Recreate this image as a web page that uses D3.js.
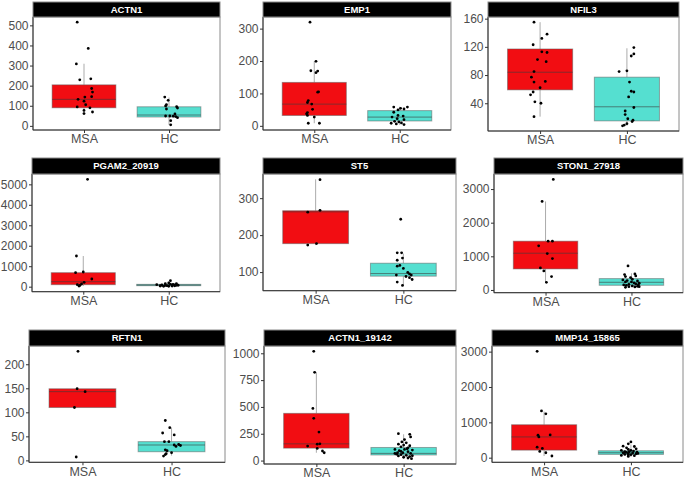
<!DOCTYPE html>
<html><head><meta charset="utf-8">
<script src="https://cdn.jsdelivr.net/npm/d3@7"></script>
<style>body{margin:0;background:#fff}svg{display:block}</style>
</head><body><div id="chart"></div>
<script>
// ---------------- DATA ----------------
const panelNames = ["ACTN1","EMP1","NFIL3","PGAM2_20919","ST5","STON1_27918","RFTN1","ACTN1_19142","MMP14_15865"];
const groups = ["MSA","HC"];
const tickValues = [
  [0,100,200,300,400,500],
  [0,100,200,300],
  [40,80,120,160],
  [0,1000,2000,3000,4000,5000],
  [100,200,300],
  [0,1000,2000,3000],
  [0,50,100,150,200],
  [0,250,500,750,1000],
  [0,1000,2000,3000]
];
// box stats: [lower whisker, q1, median, q3, upper whisker]
const msaBox = [
  [58,90,132,204,309],
  [8,32,67,134,199],
  [21,59,84,117,155],
  [30,98,244,684,1498],
  [173,177,263,266,351],
  [228,626,1092,1450,2632],
  [110,110,143,149,149],
  [73,116,156,440,823],
  [47,214,587,932,1305]
];
const hcBox = [
  [5,44,54,95,141],
  [3,15,27,47,59],
  [8,15,35,77,118],
  [16,49,81,114,244],
  [64,89,96,124,150],
  [79,139,228,338,496],
  [10,18,32,39,68],
  [21,52,67,122,245],
  [19,93,140,196,373]
];
// jittered points: [value, horizontal jitter in category units]
const msaPoints = [
  [[516,-0.08],[385,0.05],[308,-0.09],[229,-0.05],[234,0.08],[186,0.09],[168,0.10],[145,0.09],[143,0.01],[132,-0.07],[123,0.0],[105,0.02],[94,-0.08],[90,0.07],[77,0.0],[61,0.0],[69,0.1]],
  [[320,-0.05],[199,0.02],[170,-0.04],[169,0.04],[164,0.02],[105,0.05],[104,0.04],[78,-0.07],[72,-0.08],[67,-0.03],[51,-0.02],[41,-0.08],[37,-0.09],[32,-0.08],[27,0],[8,-0.07],[8,0.06]],
  [[155,-0.07],[138,0.08],[132,0.02],[123,-0.08],[113,0.02],[112,0.08],[102,-0.03],[99,0.07],[85,-0.07],[77,-0.1],[70,-0.07],[71,0.06],[62,0],[56,-0.08],[52,-0.11],[42,-0.06],[40,0.01],[21,-0.07]],
  [[5244,0.05],[1498,-0.08],[684,-0.09],[717,0],[375,0.1],[212,0.01],[130,-0.02],[33,-0.05],[98,-0.07],[60,-0.04]],
  [[350,0.05],[262,-0.09],[267,0.05],[177,0.01],[173,-0.09]],
  [[3287,0.09],[2632,-0.04],[1450,0.03],[1450,0.08],[1311,-0.08],[1082,0.02],[933,0.08],[655,-0.06],[566,-0.02],[397,0.07],[228,0.01]],
  [[227,-0.05],[149,-0.06],[143,0.03],[110,-0.09],[7,-0.07]],
  [[1018,-0.03],[823,-0.02],[486,-0.04],[394,-0.03],[266,0.03],[135,-0.1],[153,0.01],[156,0.04],[113,0.01],[89,0.07],[73,0.09]],
  [[3010,-0.08],[1323,-0.03],[1240,0.02],[634,-0.07],[587,-0.06],[643,0.07],[298,-0.08],[261,-0.02],[177,-0.05],[140,0.02],[47,0.09]]
];
const hcPoints = [
  [[143,-0.05],[127,-0.01],[105,-0.03],[99,-0.04],[95,0.09],[89,0.1],[84,-0.03],[49,-0.04],[49,0.01],[48,0.05],[59,0.07],[46,0.08],[41,0.1],[26,0.02],[5,0.02]],
  [[58,-0.07],[58,0.09],[54,0.01],[52,0.05],[49,-0.02],[42,-0.07],[32,-0.02],[30,0.04],[27,-0.09],[22,-0.03],[19,0.05],[14,-0.06],[12,-0.01],[8,-0.1],[6,-0.04],[4,0.05],[9,0.02]],
  [[119,0.08],[110,0.08],[107,0.05],[85,-0.09],[86,0],[70,0.03],[57,0.05],[56,0.08],[49,0.02],[34,0.08],[29,-0.02],[24,-0.02],[18,0.01],[16,0.07],[14,0.06],[11,0],[9,-0.03],[8,-0.05]],
  [[293,0.02],[179,0],[147,-0.04],[114,0.05],[81,0.07],[81,-0.08],[49,-0.02],[65,0.09],[33,0.04],[16,-0.06],[49,-0.1],[100,-0.14],[70,0.11],[120,0.02],[40,0.07],[20,0],[150,0.09],[60,-0.04],[30,-0.1]],
  [[243,-0.03],[152,-0.07],[152,-0.02],[138,-0.01],[132,-0.07],[118,-0.04],[116,-0.07],[110,0],[92,-0.08],[99,0.05],[95,0.07],[92,0.09],[88,0.03],[85,0.07],[80,0.1],[73,-0.07],[64,-0.01]],
  [[715,-0.04],[457,-0.08],[477,0.04],[417,0.05],[397,-0.07],[367,-0.01],[318,0.01],[298,-0.1],[278,-0.05],[268,0.07],[238,-0.07],[238,0],[209,0.03],[179,0.05],[169,-0.03],[149,0.08],[139,-0.06],[119,0.01],[109,0.07],[99,-0.03],[89,0.04],[79,-0.07],[99,0.09],[150,-0.09],[200,0.09]],
  [[83,-0.07],[68,-0.02],[53,0.03],[57,-0.1],[39,-0.08],[39,-0.03],[29,0.05],[33,0.08],[31,0.1],[32,0.03],[22,-0.07],[20,-0.05],[14,-0.06],[16,0],[9,-0.09],[12,-0.07]],
  [[251,-0.06],[245,0.07],[220,0.08],[196,0.01],[174,-0.02],[165,0.03],[153,-0.06],[144,0],[138,0.07],[128,-0.03],[119,0.05],[104,-0.1],[104,0.01],[98,0.1],[92,-0.05],[83,0.05],[73,-0.07],[73,-0.01],[67,0.08],[55,-0.03],[49,0.03],[43,-0.06],[37,0.07],[24,0.05],[18,0.09],[31,0],[67,-0.1],[60,-0.08],[85,-0.03],[110,0.04],[45,0.1]],
  [[447,0],[391,-0.03],[326,-0.09],[317,0.04],[280,-0.05],[252,0.06],[233,-0.03],[205,-0.11],[205,0],[186,0.03],[168,-0.07],[168,-0.02],[158,0.07],[140,-0.09],[130,0.02],[112,-0.03],[112,0.06],[93,-0.07],[84,0],[65,-0.11],[56,0.04],[37,-0.03],[150,-0.05],[120,0.08],[75,-0.03]]
];

// ---------------- LAYOUT / STYLE ----------------
const W = 685, H = 479;
const layout = [
  {x0:33,  x1:220, st:2,   pt:17,  pb:130},
  {x0:263, x1:451, st:2,   pt:17,  pb:130},
  {x0:488, x1:679, st:2,   pt:17,  pb:131},
  {x0:32,  x1:220, st:158, pt:174, pb:291.7},
  {x0:263, x1:456, st:158, pt:174, pb:290.7},
  {x0:494, x1:683, st:158, pt:174, pb:292.7},
  {x0:29,  x1:225, st:330, pt:346, pb:462.3},
  {x0:264, x1:456, st:330, pt:346, pb:464},
  {x0:492, x1:683, st:330, pt:346, pb:462.3}
];
const fills = ["#F20D12", "#55DFD0"];
const font = "'Liberation Sans', Arial, Helvetica, sans-serif";

const svg = d3.select("#chart").append("svg").attr("width", W).attr("height", H);
svg.append("rect").attr("width", W).attr("height", H).attr("fill", "#fff");

panelNames.forEach((name, i) => {
  const L = layout[i];
  const g = svg.append("g");
  const boxes = [msaBox[i], hcBox[i]];
  const pts = [msaPoints[i], hcPoints[i]];
  const allVals = [...msaBox[i], ...hcBox[i], ...msaPoints[i].map(d=>d[0]), ...hcPoints[i].map(d=>d[0])];
  const [mn, mx] = d3.extent(allVals);
  const pad = (mx - mn) * 0.05;
  const y = d3.scaleLinear().domain([mn - pad, mx + pad]).range([L.pb, L.pt]);
  const x = d3.scaleLinear().domain([0.4, 2.6]).range([L.x0, L.x1]);
  const bw = 0.75;

  g.append("rect").attr("x", L.x0).attr("y", L.pt).attr("width", L.x1 - L.x0).attr("height", L.pb - L.pt)
    .attr("fill", "#fff").attr("stroke", "#8a8a8a").attr("stroke-width", 1);

  boxes.forEach((b, k) => {
    const c = k + 1;
    const bg = g.append("g");
    bg.append("line").attr("x1", x(c)).attr("x2", x(c)).attr("y1", y(b[3])).attr("y2", y(b[4]))
      .attr("stroke", "rgba(90,90,90,0.5)").attr("stroke-width", 1);
    bg.append("line").attr("x1", x(c)).attr("x2", x(c)).attr("y1", y(b[1])).attr("y2", y(b[0]))
      .attr("stroke", "rgba(90,90,90,0.5)").attr("stroke-width", 1);
    bg.append("rect").attr("x", x(c - bw/2)).attr("width", x(c + bw/2) - x(c - bw/2))
      .attr("y", y(b[3])).attr("height", Math.max(0.5, y(b[1]) - y(b[3])))
      .attr("fill", fills[k]).attr("stroke", "rgba(90,90,90,0.5)").attr("stroke-width", 1);
    bg.append("line").attr("x1", x(c - bw/2)).attr("x2", x(c + bw/2)).attr("y1", y(b[2])).attr("y2", y(b[2]))
      .attr("stroke", "rgba(60,60,60,0.6)").attr("stroke-width", 1);
  });

  pts.forEach((arr, k) => {
    g.append("g").selectAll("circle").data(arr).join("circle")
      .attr("cx", d => x(k + 1 + d[1])).attr("cy", d => y(d[0])).attr("r", 1.4).attr("fill", "#000");
  });

  const ya = d3.axisLeft(y).tickValues(tickValues[i]).tickSize(3).tickPadding(1.5).tickFormat(d3.format("d"));
  const yg = g.append("g").attr("transform", `translate(${L.x0},0)`).call(ya);
  const xa = d3.axisBottom(x).tickValues([1, 2]).tickSize(3).tickPadding(1.5).tickFormat((d) => groups[d - 1]);
  const xg = g.append("g").attr("transform", `translate(0,${L.pb})`).call(xa);
  [yg, xg].forEach(a => {
    a.select(".domain").remove();
    a.selectAll(".tick line").attr("stroke", "#333");
    a.selectAll(".tick text").attr("fill", "#4D4D4D").style("font-family", font);
  });
  yg.selectAll(".tick text").style("font-size", "12px");
  xg.selectAll(".tick text").style("font-size", "12.5px");

  g.append("line").attr("x1", L.x0).attr("x2", L.x0).attr("y1", L.pt).attr("y2", L.pb).attr("stroke", "#333").attr("stroke-width", 1);
  g.append("line").attr("x1", L.x0).attr("x2", L.x1).attr("y1", L.pb).attr("y2", L.pb).attr("stroke", "#333").attr("stroke-width", 1);

  g.append("rect").attr("x", L.x0).attr("y", L.st).attr("width", L.x1 - L.x0).attr("height", L.pt - L.st)
    .attr("fill", "#000").attr("stroke", "#8a8a8a").attr("stroke-width", 1);
  g.append("text").attr("x", (L.x0 + L.x1) / 2).attr("y", (L.st + L.pt) / 2).attr("dy", "0.36em")
    .attr("text-anchor", "middle").attr("fill", "#fff").style("font-family", font)
    .style("font-weight", "bold").style("font-size", "9.5px").text(name);
});
</script>
</body></html>
